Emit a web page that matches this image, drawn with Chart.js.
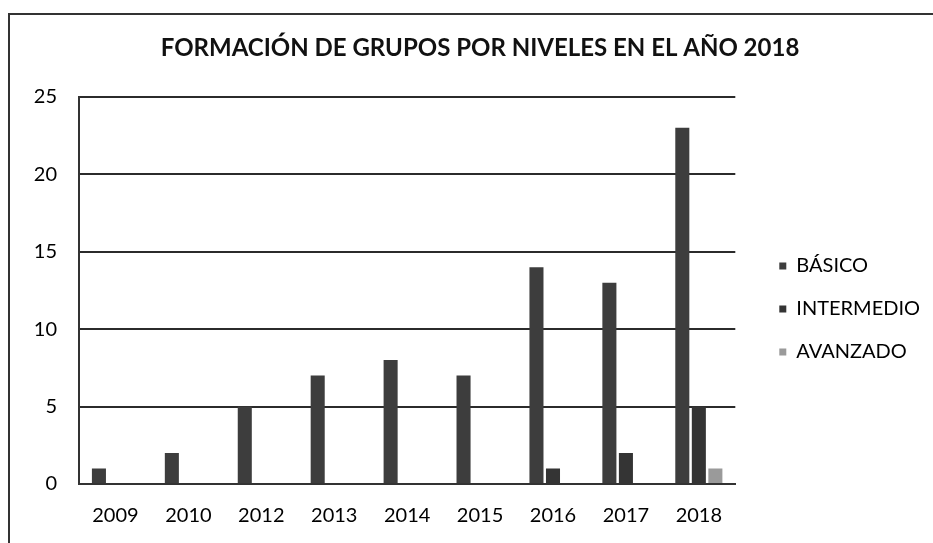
<!DOCTYPE html>
<html><head><meta charset="utf-8">
<script src="https://cdn.jsdelivr.net/npm/chart.js@4"></script>
<style>
html,body{margin:0;padding:0;background:#fff;}
#wrap{position:relative;width:933px;height:543px;}
#frame{position:absolute;left:8px;top:13px;width:940px;height:560px;border-left:2px solid #333;border-top:2px solid #333;pointer-events:none;}
canvas{position:absolute;left:0;top:0;}
</style></head>
<body>
<div id="wrap"><canvas id="c" width="933" height="543"></canvas><div id="frame"></div></div>
<script>
const categories = ['2009','2010','2012','2013','2014','2015','2016','2017','2018'];
const basico = [1,2,5,7,8,7,14,13,23];
const intermedio = [0,0,0,0,0,0,1,2,5];
const avanzado = [0,0,0,0,0,0,0,0,1];
const seriesNames = ['BÁSICO','INTERMEDIO','AVANZADO'];
const yTicks = [0,5,10,15,20,25];
const titleText = 'FORMACIÓN DE GRUPOS POR NIVELES EN EL AÑO 2018';

const FONT = 'Lato, "Open Sans", sans-serif';
new Chart(document.getElementById('c'), {
  type: 'bar',
  data: {
    labels: categories,
    datasets: [
      {label: seriesNames[0], data: basico, backgroundColor: '#3d3d3d'},
      {label: seriesNames[1], data: intermedio, backgroundColor: '#343434'},
      {label: seriesNames[2], data: avanzado, backgroundColor: '#9a9a9a'}
    ]
  },
  options: {
    responsive: false,
    animation: false,
    devicePixelRatio: 1,
    layout: {padding: {left: 30, right: 3, top: 34, bottom: 3}},
    datasets: {bar: {categoryPercentage: 0.68, barPercentage: 0.85}},
    plugins: {
      title: {display: true, text: titleText, color: '#111', font: {family: FONT, size: 24, weight: 'bold'}, padding: {top: 0, bottom: 34}},
      legend: {
        position: 'right',
        maxWidth: 260,
        title: {display: true, text: ' ', font: {size: 10}, padding: {top: 0, bottom: 32}},
        labels: {boxWidth: 7, boxHeight: 7, padding: 23, color: '#000', font: {family: FONT, size: 20}}
      },
      tooltip: {enabled: false}
    },
    scales: {
      x: {
        grid: {display: false},
        border: {display: true, color: '#333', width: 2},
        ticks: {color: '#000', font: {family: FONT, size: 20}, padding: 12}
      },
      y: {
        min: 0, max: 25,
        afterBuildTicks: (s) => { s.ticks = yTicks.map(v => ({value: v})); },
        afterFit: (s) => { s.width = 49; },
        grid: {color: '#2b2b2b', lineWidth: 2, drawTicks: false},
        border: {display: true, color: '#333', width: 2},
        ticks: {color: '#000', font: {family: FONT, size: 20}, padding: 22}
      },
      gap: {
        position: 'right', display: true, min: 0, max: 1,
        grid: {display: false}, border: {display: false},
        ticks: {display: false},
        afterFit: (s) => { s.width = 21; }
      }
    }
  }
});
</script>
</body></html>
